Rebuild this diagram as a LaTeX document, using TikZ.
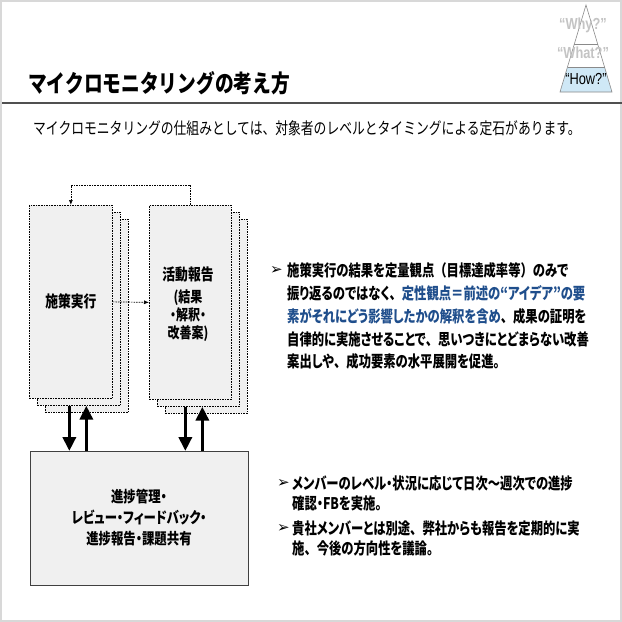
\documentclass[tikz,border=0pt]{standalone}
\usepackage{fontspec}
\usetikzlibrary{arrows.meta}
\newfontfamily\jp[FakeStretch=0.8, RawFeature=+palt]{Noto Sans CJK JP}
\newfontfamily\jpb[FakeStretch=0.77, RawFeature=+palt]{Noto Sans CJK JP}
\newfontfamily\jpf[FakeStretch=0.77]{Noto Sans CJK JP}
\newfontfamily\jpt[FakeStretch=0.78]{Noto Sans CJK JP}
\newfontfamily\lat[FakeStretch=0.8]{Liberation Sans}
\newfontfamily\sym{DejaVu Sans}
\newcommand{\fwp}[1]{{\jpf\bfseries #1}}
\definecolor{boxfill}{HTML}{F0F0F0}
\definecolor{frameg}{HTML}{D8D8D8}
\definecolor{ruleg}{HTML}{505050}
\definecolor{pyrblue}{HTML}{CFE8F6}
\definecolor{pyrline}{HTML}{8A8A8A}
\definecolor{ghost}{HTML}{C4C4C4}
\definecolor{txtblue}{HTML}{1F4E8C}
\definecolor{boxline}{HTML}{404040}
\tikzset{
  stackbox/.style={draw=black, fill=boxfill, dash pattern=on 1.6pt off 1pt, line width=0.7pt, inner sep=0pt, anchor=north west},
  dashconn/.style={draw=black, dash pattern=on 1.6pt off 1pt, line width=0.7pt, -{Latex[length=5pt,width=4pt]}},
  bigarrow/.style={draw=black, line width=3.6pt, -{Triangle[length=14pt,width=13pt]}},
  progbox/.style={draw=boxline, fill=boxfill, line width=1.2pt, inner sep=0pt, anchor=north west},
  bodytxt/.style={anchor=west, inner sep=0pt, font=\jpb\bfseries\fontsize{16}{16}\selectfont},
  bullet/.style={anchor=west, inner sep=0pt, font=\sym\fontsize{15}{15}\selectfont},
}
\begin{document}
\begin{tikzpicture}[x=1pt,y=-1pt]
\useasboundingbox (0,0) rectangle (622,622);
\fill[white] (0,0) rectangle (622,622);
\draw[frameg, line width=1.5pt] (1,1) rectangle (621,621);

% pyramid
\fill[pyrblue] (567.5,67) -- (604.5,67) -- (612,92) -- (560,92) -- cycle;
\draw[pyrline, line width=0.6pt] (586,5) -- (612,92) -- (560,92) -- cycle;
\draw[pyrline, line width=0.6pt] (574.3,44) -- (597.7,44);
\draw[pyrline, line width=0.6pt] (567.5,67) -- (604.5,67);
\node[ghost, inner sep=0pt, font=\lat\bfseries\fontsize{16}{16}\selectfont] (why) at (583,25) {“Why?”};
\node[ghost, inner sep=0pt, font=\lat\bfseries\fontsize{16}{16}\selectfont] (what) at (583,53) {“What?”};
\node[black, inner sep=0pt, font=\lat\fontsize{16}{16}\selectfont] (how) at (586,79) {“How?”};

% title
\node[anchor=west, inner sep=0pt, font=\jpt\bfseries\fontsize{24}{24}\selectfont] (title) at (28,83) {マイクロモニタリングの考え方};
\draw[ruleg, line width=1.5pt] (2,103) -- (622,103);
\node[anchor=west, inner sep=0pt, font=\jpt\fontsize{16.4}{16.4}\selectfont] (sub) at (33,128) {マイクロモニタリングの仕組みとしては、対象者のレベルとタイミングによる定石があります。};

% left stack
\node[stackbox, minimum width=83pt, minimum height=193pt] (exe3) at (45,219) {};
\node[stackbox, minimum width=83pt, minimum height=193pt] (exe2) at (37,212) {};
\node[stackbox, minimum width=83pt, minimum height=193pt] (exe) at (29,205) {};
\node[font=\jp\bfseries\fontsize{16}{16}\selectfont, inner sep=0pt] (exet) at (exe.center) {施策実行};

% right stack
\node[stackbox, minimum width=82pt, minimum height=194pt] (rep3) at (165,219) {};
\node[stackbox, minimum width=82pt, minimum height=194pt] (rep2) at (157,212) {};
\node[stackbox, minimum width=82pt, minimum height=194pt] (rep) at (149,205) {};
\node[font=\jp\bfseries\fontsize{16}{16}\selectfont, inner sep=0pt] (rept) at (188,274) {活動報告};
\node[font=\jp\bfseries\fontsize{15}{18}\selectfont, inner sep=0pt, align=center] (repd) at (188,316) {(結果\\・解釈・\\改善案)};

% dashed connectors
\draw[dashconn] (rep.north) -- ++(0,-20) -| (exe.north);
\draw[dashconn] (exe.east) -- (rep.west);

% bottom box
\node[progbox, minimum width=218pt, minimum height=134pt] (prog) at (30,451) {};
\node[font=\jp\bfseries\fontsize{15.5}{21}\selectfont, inner sep=0pt, align=center] (progt) at (139,518) {進捗管理・\\レビュー・フィードバック・\\進捗報告・課題共有};

% thick arrows
\path (exe2.south) ++(-9.5,0) coordinate (d1s);
\path (exe2.south) ++(7.5,0) coordinate (u1e);
\path (rep2.south) ++(-13,0) coordinate (d2s);
\path (rep2.south) ++(4,0) coordinate (u2e);
\draw[bigarrow] (d1s) -- (d1s |- prog.north);
\draw[bigarrow] (u1e |- prog.north) -- (u1e);
\draw[bigarrow] (d2s) -- (d2s |- prog.north);
\draw[bigarrow] (u2e |- prog.north) -- (u2e);

% right text block 1
\node[bullet] (b1) at (270,270) {➢};
\node[bodytxt] (l1) at (287,270) {施策実行の結果を定量観点\fwp{（}目標達成率等\fwp{）}のみで};
\node[bodytxt] (l2) at (287,293) {振り返るのではなく\fwp{、}\textcolor{txtblue}{定性観点＝前述の“アイデア”の要}};
\node[bodytxt] (l3) at (287,316) {\textcolor{txtblue}{素がそれにどう影響したかの解釈を含め}\fwp{、}成果の証明を};
\node[bodytxt] (l4) at (287,339) {自律的に実施させることで\fwp{、}思いつきにとどまらない改善};
\node[bodytxt] (l5) at (287,361) {案出しや\fwp{、}成功要素の水平展開を促進。};

% right text block 2
\node[bullet] (b2) at (277,483) {➢};
\node[bodytxt] (m1) at (292,483) {メンバーのレベル・状況に応じて日次～週次での進捗};
\node[bodytxt] (m2) at (292,503) {確認・FBを実施。};
\node[bullet] (b3) at (277,528) {➢};
\node[bodytxt] (m3) at (292,528) {貴社メンバーとは別途\fwp{、}弊社からも報告を定期的に実};
\node[bodytxt] (m4) at (292,548) {施\fwp{、}今後の方向性を議論。};
\end{tikzpicture}
\end{document}
